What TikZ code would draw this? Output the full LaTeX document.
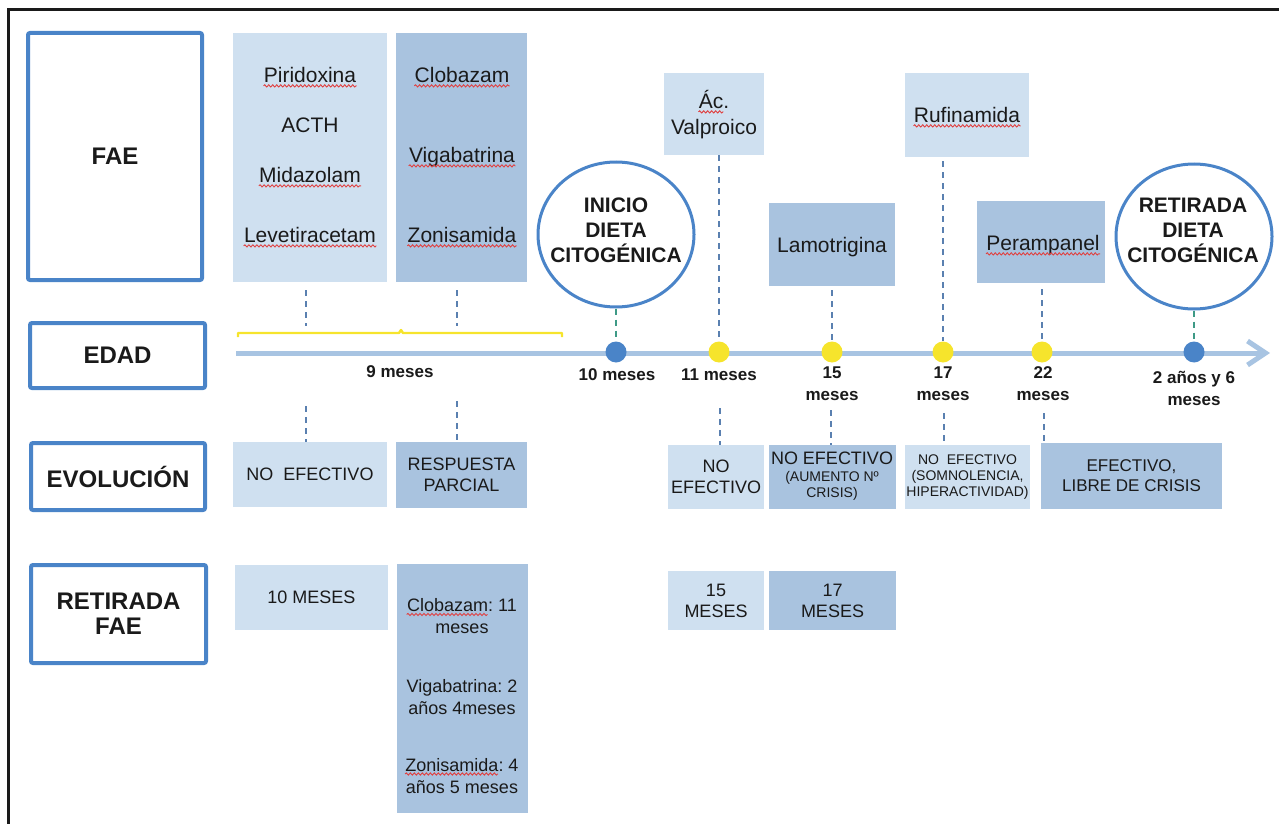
\documentclass[tikz,border=0pt]{standalone}
\usepackage{fontspec}
\setmainfont{Liberation Sans}
\usetikzlibrary{arrows.meta,decorations.pathmorphing,shapes.geometric}

\definecolor{lightfill}{HTML}{CFE0F0}
\definecolor{darkfill}{HTML}{A9C3DF}
\definecolor{labelblue}{HTML}{4A84C8}
\definecolor{axisblue}{HTML}{A8C4E2}
\definecolor{dotblue}{HTML}{4A84C8}
\definecolor{dotyellow}{HTML}{F6E42C}
\definecolor{dashblue}{HTML}{5A80B0}
\definecolor{dashgreen}{HTML}{3E9A86}
\definecolor{spellred}{HTML}{E04040}
\definecolor{ink}{HTML}{1A1A1A}

\frenchspacing

\begin{document}
\begin{tikzpicture}[x=0.5pt, y=-0.5pt,
		lbl/.style={draw=labelblue, line width=2pt, fill=white, rounded corners=1pt, inner sep=0pt, align=center, text=ink, font=\fontsize{12}{12.5}\selectfont\bfseries},
		wh/.style 2 args={minimum width=#1*0.5pt, minimum height=#2*0.5pt},
		light/.style={fill=lightfill, inner sep=0pt},
		dark/.style={fill=darkfill, inner sep=0pt},
		drug/.style={inner sep=0pt, text=ink, text height=7.5pt, text depth=0pt, font=\fontsize{10.5}{14}\selectfont},
		info/.style={inner sep=0pt, align=center, text=ink, font=\fontsize{9}{10.5}\selectfont},
		note/.style={info, font=\fontsize{9}{11}\selectfont},
		small/.style={inner sep=0pt, align=center, text=ink, font=\fontsize{7}{7.8}\selectfont},
		age/.style={inner sep=0pt, align=center, text=ink, font=\fontsize{8.5}{11}\selectfont\bfseries},
		diet/.style={ellipse, draw=labelblue, line width=1.5pt, fill=white, wh={156}{145}, inner sep=0pt},
		diettxt/.style={inner sep=0pt, align=center, text=ink, font=\fontsize{10.5}{12.5}\selectfont\bfseries},
		dot/.style={circle, inner sep=0pt, minimum size=10.5pt, fill=#1},
		conn/.style={draw=dashblue, line width=0.8pt, dash pattern=on 3pt off 2.5pt},
		conng/.style={conn, draw=dashgreen},
		spell/.style={draw=spellred, line width=0.45pt, decorate, decoration={snake, amplitude=0.55pt, segment length=2pt}}]
		\useasboundingbox (0,0) rectangle (1279,824);
		\draw[line width=1.5pt, ink] (8,824) -- (8,10) -- (1279,10);
		
		% row labels
		\node[lbl, wh={174}{247}] (fae) at (115,156.5) {FAE};
		\node[lbl, wh={175}{65}] (edad) at (117.5,355.5) {EDAD};
		\node[lbl, wh={174}{67}] (evol) at (118,476.5) {EVOLUCIÓN};
		\node[lbl, wh={175}{98}] (retfae) at (118.5,614) {RETIRADA\\FAE};
		
		% FAE
		\node[light, wh={154}{249}] (fae1) at (310,157.5) {};
		\node[dark, wh={131}{249}] (fae2) at (461.5,157.5) {};
		\node[drug] (piri) at (310,75) {Piridoxina};
		\node[drug] (acth) at (310,125) {ACTH};
		\node[drug] (mida) at (310,175) {Midazolam};
		\node[drug] (leve) at (310,235) {Levetiracetam};
		\node[drug] (clob) at (462,75) {Clobazam};
		\node[drug] (viga) at (462,155) {Vigabatrina};
		\node[drug] (zoni) at (462,235) {Zonisamida};
		\node[light, wh={100}{82}] (valp) at (714,114) {};
		\node[drug] (valpa) at (714,101) {Ác.};
		\node[drug] (valpb) at (714,127) {Valproico};
		\node[dark, drug, wh={126}{83}] (lamo) at (832,244.5) {Lamotrigina};
		\node[light, wh={124}{84}] (rufi) at (967,115) {};
		\node[drug] (rufitxt) at (967,115) {Rufinamida};
		\node[dark, wh={128}{82}] (pera) at (1041,242) {};
		\node[drug] (peratxt) at (1043,243) {Perampanel};
		
		\node[diet] (inicio) at (616,234.5) {};
		\node[diettxt] (iniciotxt) at (616,230) {INICIO\\DIETA\\CITOGÉNICA};
		\node[diet] (retdiet) at (1194,236.5) {};
		\node[diettxt] (retdiettxt) at (1193,230.5) {RETIRADA\\DIETA\\CITOGÉNICA};
		
		% EDAD
		\draw[dotyellow, line width=1.2pt, line join=round] (238,337) -- (238,333) -- (399,333) -- (401,330) -- (403,333) -- (562,333) -- (562,337);
		\coordinate (tstart) at (236,353);
		\coordinate (tend) at (1270,353);
		\draw[axisblue, line width=2.5pt, -{Straight Barb[length=9pt,width=12pt]}] (tstart) -- (tend);
		\node[dot=dotblue] (d10) at (616,352) {};
		\node[dot=dotyellow] (d11) at (719,352) {};
		\node[dot=dotyellow] (d15) at (832,352) {};
		\node[dot=dotyellow] (d17) at (943,352) {};
		\node[dot=dotyellow] (d22) at (1042,352) {};
		\node[dot=dotblue] (d30) at (1194,352) {};
		\node[age] (t9) at (400,372) {9 meses};
		\node[age] (t10) at (617,375) {10 meses};
		\node[age] (t11) at (719,375) {11 meses};
		\node[age] (t15) at (832,384) {15\\meses};
		\node[age] (t17) at (943,384) {17\\meses};
		\node[age] (t22) at (1043,384) {22\\meses};
		\node[age] (t30) at (1194,388) {2 años y 6\\meses};
		
		% EVOLUCION
		\node[light, info, wh={154}{65}] (ev1) at (310,474.5) {NO\ \ EFECTIVO};
		\node[dark, info, wh={131}{66}] (ev2) at (461.5,475) {RESPUESTA\\PARCIAL};
		\node[light, info, wh={96}{64}] (ev3) at (716,477) {NO\\EFECTIVO};
		\node[dark, wh={127}{64}] (ev4) at (832.5,477) {};
		\node[info] (ev4a) at (832,458) {NO EFECTIVO};
		\node[small] (ev4b) at (832,486) {(AUMENTO Nº\\CRISIS)};
		\node[light, small, font=\fontsize{7}{8}\selectfont, wh={125}{64}] (ev5) at (967.5,477) {NO\ \ EFECTIVO\\(SOMNOLENCIA,\\HIPERACTIVIDAD)};
		\node[dark, info, font=\fontsize{8.5}{10}\selectfont, wh={181}{66}] (ev6) at (1131.5,476) {EFECTIVO,\\LIBRE DE CRISIS};
		
		% RETIRADA FAE
		\node[light, info, wh={153}{65}] (rt1) at (311.5,597.5) {10 MESES};
		\node[dark, wh={131}{249}] (rt2) at (462.5,688.5) {};
		\node[note] (rt2a) at (462,616.5) {Clobazam: 11\\meses};
		\node[note] (rt2b) at (462,697) {Vigabatrina: 2\\años 4meses};
		\node[note] (rt2c) at (462,776) {Zonisamida: 4\\años 5 meses};
		\node[light, info, wh={96}{59}] (rt3) at (716,600.5) {15\\MESES};
		\node[dark, info, wh={127}{59}] (rt4) at (832.5,600.5) {17\\MESES};
		
		% spelling marks
		\draw[spell] ([yshift=-1.5pt]piri.south west) -- ([yshift=-1.5pt]piri.south east);
		\draw[spell] ([yshift=-1.5pt]mida.south west) -- ([yshift=-1.5pt]mida.south east);
		\draw[spell] ([yshift=-1.5pt]leve.south west) -- ([yshift=-1.5pt]leve.south east);
		\draw[spell] ([yshift=-1.5pt]clob.south west) -- ([yshift=-1.5pt]clob.south east);
		\draw[spell] ([yshift=-1.5pt]viga.south west) -- ([yshift=-1.5pt]viga.south east);
		\draw[spell] ([yshift=-1.5pt]zoni.south west) -- ([yshift=-1.5pt]zoni.south east);
		\draw[spell] ([yshift=-1.5pt]rufitxt.south west) -- ([yshift=-1.5pt]rufitxt.south east);
		\draw[spell] ([yshift=-1.5pt]peratxt.south west) -- ([yshift=-1.5pt]peratxt.south east);
		\draw[spell] ([yshift=-1.5pt]valpa.south west) -- ++(25,0);
		\draw[spell] ([yshift=-8pt]rt2a.north west) -- ++(81,0);
		\draw[spell] ([yshift=-8pt]rt2c.north west) -- ++(93,0);
		
		% connectors
		\coordinate (b9a) at (306,326);
		\coordinate (b9b) at (457,326);
		\draw[conn, shorten <=4pt] (fae1.south -| b9a) -- (b9a);
		\draw[conn, shorten <=4pt] (fae2.south -| b9b) -- (b9b);
		\draw[conng] (inicio) -- (d10);
		\draw[conn] (valp.south -| d11) -- (d11);
		\draw[conn, shorten <=2pt] (lamo.south -| d15) -- (d15);
		\draw[conn, shorten <=2pt] (rufi.south -| d17) -- (d17);
		\draw[conn, shorten <=3pt] (pera.south -| d22) -- (d22);
		\draw[conng] (retdiet) -- (d30);
		
		\coordinate (c9a) at (306,406);
		\coordinate (c9b) at (457,401);
		\coordinate (c11) at (720,408);
		\coordinate (c15) at (831,410);
		\coordinate (c17) at (944,413);
		\coordinate (c22) at (1044,413);
		\draw[conn] (c9a) -- (ev1.north -| c9a);
		\draw[conn] (c9b) -- (ev2.north -| c9b);
		\draw[conn] (c11) -- (ev3.north -| c11);
		\draw[conn] (c15) -- (ev4.north -| c15);
		\draw[conn] (c17) -- (ev5.north -| c17);
		\draw[conn] (c22) -- (ev6.north -| c22);
\end{tikzpicture}
\end{document}
